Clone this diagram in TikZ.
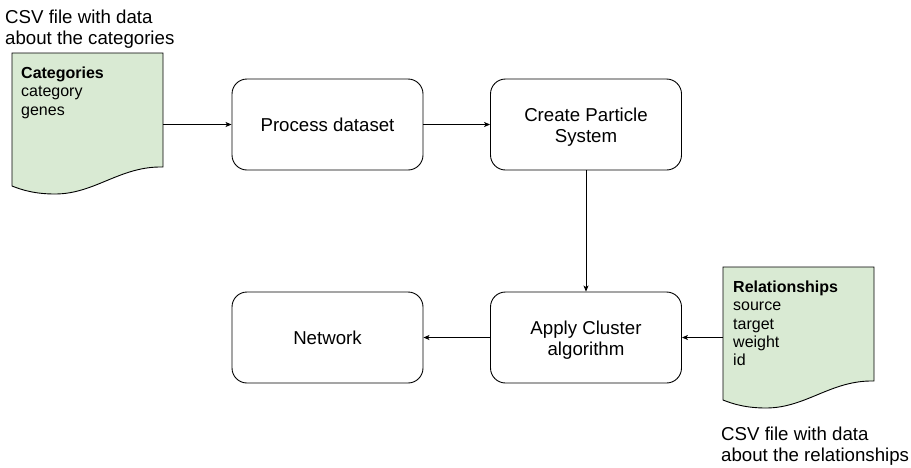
\documentclass[tikz,border=0pt]{standalone}
\usepackage{fontspec}
\setmainfont{Liberation Sans}
\usetikzlibrary{arrows.meta}
\definecolor{docfill}{HTML}{D9EAD3}
\begin{document}
\begin{tikzpicture}[x=1pt,y=-1pt,
  procbox/.style={draw, line width=0.9pt, rounded corners=15pt, minimum width=191pt, minimum height=91pt, inner sep=0pt, align=center, font=\fontsize{18.67}{21.5}\selectfont},
  twoline/.style={text height=13.4pt, text depth=8pt+21.5pt},
  docshape/.style={draw, fill=docfill, line width=0.9pt},
  arr/.style={-{Stealth[length=6pt,width=5pt,inset=1.5pt]}, line width=0.8pt},
  caption/.style={anchor=north west, inner sep=0pt, align=left, font=\fontsize{18.67}{21.5}\selectfont},
  doctext/.style={anchor=north west, inner sep=0pt, align=left, font=\fontsize{16}{18.4}\selectfont},
  docarea/.style={minimum width=151pt, minimum height=114pt, inner sep=0pt}]
\useasboundingbox (0,0) rectangle (911,467);

% document shapes
\draw[docshape, shift={(12,53)}] (0,0) -- (151,0) -- (151,114) .. controls (108,113) and (83,141) .. (43,141) .. controls (23,141) and (10,137) .. (0,133) -- cycle;
\draw[docshape, shift={(723,267)}] (0,0) -- (151,0) -- (151,114) .. controls (108,113) and (83,141) .. (43,141) .. controls (23,141) and (10,137) .. (0,133) -- cycle;
\node[docarea] (cat) at (87.5,110) {};
\node[docarea] (rel) at (798.5,324) {};

\node[doctext] (cattext) at (21,66) {\rule{0pt}{12pt}\textbf{Categories}\\category\\genes};
\node[doctext] (reltext) at (733,280) {\rule{0pt}{12pt}\textbf{Relationships}\\source\\target\\weight\\id};

\node[caption] (capcat) at (5,9) {\rule{0pt}{14pt}CSV file with data\\about the categories};
\node[caption] (caprel) at (721,426) {\rule{0pt}{14pt}CSV file with data\\about the relationships};

% process boxes
\node[procbox] (proc) at (327.5,124.5) {Process dataset};
\node[procbox] (create) at (586,124.5) {};
\node[procbox] (net) at (327.5,337.5) {Network};
\node[procbox] (apply) at (586,337.5) {};
\node[align=center, inner sep=0pt, font=\fontsize{18.67}{21.5}\selectfont] (createtext) at ([yshift=-2.5pt]create.center) {Create Particle\\System};
\node[align=center, inner sep=0pt, font=\fontsize{18.67}{21.5}\selectfont] (applytext) at ([yshift=-2.5pt]apply.center) {Apply Cluster\\algorithm};

% connectors
\draw[arr] (cat.east |- proc.west) -- (proc.west);
\draw[arr] (proc.east) -- (create.west);
\draw[arr] (create.south) -- (apply.north);
\draw[arr] (apply.west) -- (net.east);
\draw[arr] (rel.west |- apply.east) -- (apply.east);
\end{tikzpicture}
\end{document}
